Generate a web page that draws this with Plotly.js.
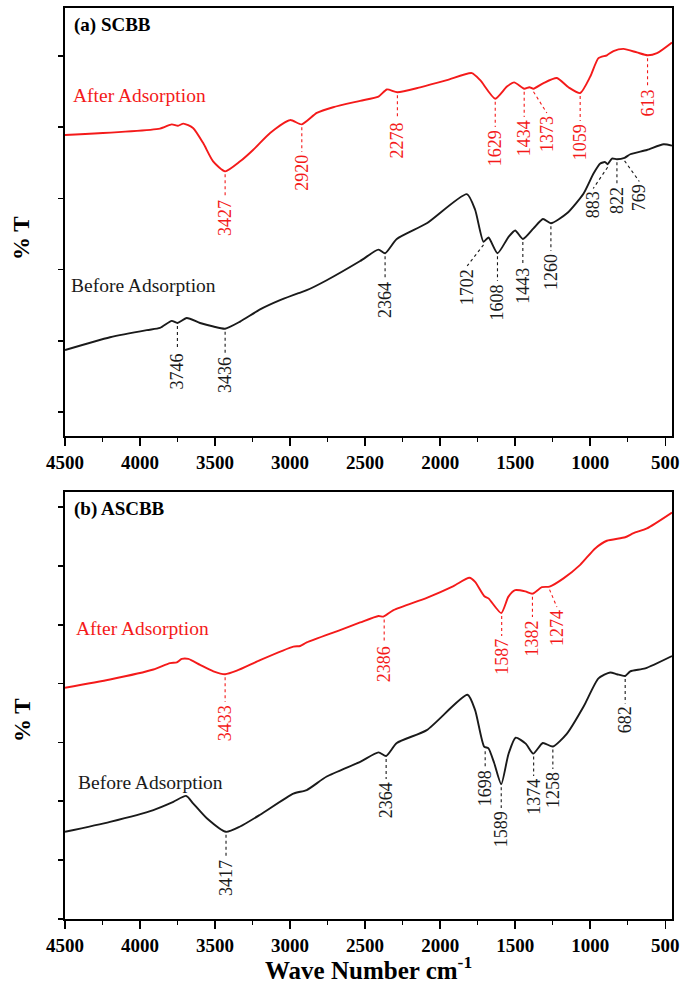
<!DOCTYPE html>
<html>
<head>
<meta charset="utf-8">
<script src="https://cdn.plot.ly/plotly-3.0.1.min.js"></script>
<style>html,body{margin:0;padding:0;background:#fff;}#chart{width:685px;height:987px;}</style>
</head>
<body>
<div id="chart"></div>
<script>
// ---------- DATA (wavenumber cm-1, %T arbitrary offset units) ----------
// Panel (a) SCBB
const A_RED_WN = [4500,3867,3789,3747,3711,3647,3580,3513,3433,3333,3247,3133,3000,2922,2822,2713,2533,2411,2355,2285,2133,1955,1789,1733,1633,1555,1507,1440,1405,1378,1311,1222,1145,1067,1000,945,889,845,778,689,618,555,455];
const A_RED_T  = [38.9,39.8,40.4,40.2,40.5,39.9,37.8,35.2,33.8,35.2,36.8,39.2,41.0,40.4,42.0,42.8,43.7,44.3,45.3,44.9,45.6,46.6,47.6,46.6,44.0,45.7,46.3,45.4,45.6,45.4,46.2,46.9,45.6,44.8,47.1,49.7,50.1,50.7,51.0,50.5,50.1,50.4,51.9];
const A_BLK_WN = [4500,4200,3955,3867,3789,3751,3689,3600,3511,3433,3333,3200,3067,2944,2889,2756,2533,2411,2367,2289,2089,1822,1767,1711,1678,1618,1544,1500,1449,1378,1315,1262,1155,1044,978,933,900,884,855,822,771,733,622,511,455];
const A_BLK_T  = [8.7,10.5,11.5,11.8,12.8,12.5,13.2,12.5,12.0,11.7,12.7,14.4,15.7,16.7,17.1,18.5,21.2,22.8,22.3,24.3,26.5,30.6,28.4,23.9,24.5,22.3,24.6,25.5,24.3,25.8,27.1,26.5,27.9,30.7,33.5,34.9,35.1,34.8,35.6,35.5,35.7,36.2,36.8,37.6,37.4];
// Panel (b) ASCBB
const B_RED_WN = [4500,4200,3911,3800,3755,3722,3678,3600,3511,3433,3355,3200,2978,2933,2889,2667,2533,2411,2378,2311,2089,1911,1805,1767,1707,1678,1593,1545,1500,1433,1385,1322,1271,1178,1067,967,889,767,711,622,455];
const B_RED_T  = [29.3,30.7,32.4,33.5,33.6,34.2,34.2,33.2,32.1,31.6,32.2,34.0,36.3,36.4,37.0,39.1,40.4,41.5,41.4,42.5,44.6,46.6,48.0,47.3,44.9,44.5,42.0,44.8,45.9,45.7,45.3,46.4,46.5,47.9,50.2,53.0,54.3,54.9,55.6,56.4,59.1];
const B_BLK_WN = [4500,4200,3911,3778,3693,3645,3555,3427,3333,3200,2978,2889,2756,2533,2411,2360,2289,2089,1818,1767,1707,1678,1640,1593,1545,1497,1430,1380,1316,1249,1155,1044,945,867,822,767,733,633,455];
const B_BLK_T  = [4.8,6.5,8.5,9.9,10.9,9.6,7.1,4.8,5.7,7.7,11.3,11.9,14.2,16.7,18.3,17.7,19.9,22.1,28.1,25.5,19.3,19.0,16.5,12.9,18.0,20.8,19.8,18.1,19.9,19.3,21.5,26.1,30.9,31.9,31.6,31.3,32.1,32.6,34.7];

// Peak labels: text, wavenumber where the dotted line starts, %T at curve, wavenumber of text, %T of text centre
const LA_RED_TXT = ['3427','2920','2278','1629','1434','1373','1059','613'];
const LA_RED_LX  = [3433,2922,2285,1633,1440,1378,1067,618];
const LA_RED_CV  = [33.8,40.4,44.9,44.0,45.4,45.4,44.8,50.1];
const LA_RED_TX  = [3433,2922,2285,1633,1440,1289,1067,618];
const LA_RED_TV  = [27.25,33.57,38.2,37.08,38.48,39.04,37.92,43.4];

const LA_BLK_TXT = ['3746','3436','2364','1702','1608','1443','1260','883','822','769'];
const LA_BLK_LX  = [3751,3433,2367,1711,1618,1449,1262,884,822,771];
const LA_BLK_CV  = [12.5,11.7,22.3,23.9,22.3,24.3,26.5,34.8,35.5,35.7];
const LA_BLK_TX  = [3751,3433,2367,1820,1618,1449,1262,980,822,673];
const LA_BLK_TV  = [5.76,5.2,15.73,17.56,15.45,17.7,19.66,29.07,29.78,30.06];

const LB_RED_TXT = ['3433','2386','1587','1382','1274'];
const LB_RED_LX  = [3433,2373,1590,1385,1271];
const LB_RED_CV  = [31.6,41.4,42.0,45.3,46.5];
const LB_RED_TX  = [3433,2373,1590,1385,1222];
const LB_RED_TV  = [23.3,33.33,34.52,37.76,39.46];

const LB_BLK_TXT = ['3417','2364','1698','1589','1374','1258','682'];
const LB_BLK_LX  = [3427,2360,1700,1593,1377,1249,767];
const LB_BLK_CV  = [4.8,17.7,19.0,12.9,18.1,19.3,31.3];
const LB_BLK_TX  = [3427,2360,1700,1593,1377,1249,767];
const LB_BLK_TV  = [-3.06,10.2,12.24,5.27,10.71,11.9,23.8];

const X_TICKS = [4500,4000,3500,3000,2500,2000,1500,1000,500];

// ---------- STYLE / LAYOUT ----------
const RED = '#f41a1a', BLK = '#1a1a1a';
const SERIF = 'Liberation Serif, Times New Roman, serif';
const W = 685, H = 987;
const M = {l:65, r:13, t:8, b:68};
const plotH = H - M.t - M.b;
const domA = [0.5302, 1], domB = [0, 0.4687];
const rangeA = [-3.37, 56.74], rangeB = [-10.03, 62.59];
const uppA = (rangeA[1]-rangeA[0]) / ((domA[1]-domA[0])*plotH);
const uppB = (rangeB[1]-rangeB[0]) / ((domB[1]-domB[0])*plotH);

function trace(x, y, color, xa, ya){
  return {x:x, y:y, type:'scatter', mode:'lines', xaxis:xa, yaxis:ya,
    line:{color:color, width:1.9, shape:'spline', smoothing:0.6}, hoverinfo:'skip', showlegend:false};
}
const data = [
  trace(A_RED_WN, A_RED_T, RED, 'x', 'y'),
  trace(A_BLK_WN, A_BLK_T, BLK, 'x', 'y'),
  trace(B_RED_WN, B_RED_T, RED, 'x2', 'y2'),
  trace(B_BLK_WN, B_BLK_T, BLK, 'x2', 'y2')
];

const annotations = [], shapes = [];
const LABSIZE = 18;
function addLabels(txt, lx, cv, tx, tv, color, xr, yr, upp){
  for (let i=0;i<txt.length;i++){
    const half = txt[i].length * 0.5 * LABSIZE / 2;
    shapes.push({type:'line', xref:xr, yref:yr, x0:lx[i], x1:tx[i],
      y0:cv[i] - 3*upp, y1:tv[i] + (half+3)*upp,
      line:{color:color, width:1.1, dash:'dot'}});
    annotations.push({xref:xr, yref:yr, x:tx[i], y:tv[i], text:txt[i], showarrow:false,
      textangle:-90, xanchor:'center', yanchor:'middle',
      font:{family:SERIF, size:LABSIZE, color:color}});
  }
}
addLabels(LA_RED_TXT, LA_RED_LX, LA_RED_CV, LA_RED_TX, LA_RED_TV, RED, 'x', 'y', uppA);
addLabels(LA_BLK_TXT, LA_BLK_LX, LA_BLK_CV, LA_BLK_TX, LA_BLK_TV, BLK, 'x', 'y', uppA);
addLabels(LB_RED_TXT, LB_RED_LX, LB_RED_CV, LB_RED_TX, LB_RED_TV, RED, 'x2', 'y2', uppB);
addLabels(LB_BLK_TXT, LB_BLK_LX, LB_BLK_CV, LB_BLK_TX, LB_BLK_TV, BLK, 'x2', 'y2', uppB);

const plotW = W - M.l - M.r;
function px(xp){ return (xp - M.l)/plotW; }
function py(yp){ return (H - M.b - yp)/plotH; }
function txt(text, xp, yp, size, color, bold, anchor, angle){
  annotations.push({xref:'paper', yref:'paper', x:px(xp), y:py(yp), text:text, showarrow:false,
    xanchor:anchor||'left', yanchor:'middle', textangle:angle||0,
    font:{family:SERIF, size:size, color:color, weight: bold?700:400}});
}
txt('(a) SCBB', 72, 25, 19, '#000', true);
txt('After Adsorption', 71, 95, 19.5, RED, false);
txt('Before Adsorption', 69, 285, 19.5, BLK, false);
txt('(b) ASCBB', 72, 509, 19, '#000', true);
txt('After Adsorption', 74, 628, 19.5, RED, false);
txt('Before Adsorption', 76, 782, 19.5, BLK, false);
txt('% T', 22, 238, 23, '#000', true, 'center', -90);
txt('% T', 22, 720, 23, '#000', true, 'center', -90);
txt('Wave Number cm<sup>-1</sup>', 368, 968, 25, '#000', true, 'center');

function xaxis(anchor){
  return {anchor:anchor, domain:[0,1], range:[4500,455], tickmode:'array', tickvals:X_TICKS,
    ticks:'outside', ticklen:8, tickwidth:1.5, tickcolor:'#000',
    minor:{dtick:250, tick0:0, ticks:'outside', ticklen:4, tickwidth:1.5, tickcolor:'#000', showgrid:false},
    showline:true, mirror:true, linewidth:1.8, linecolor:'#000', showgrid:false, zeroline:false,
    tickfont:{family:SERIF, size:19, color:'#000', weight:700}, fixedrange:true};
}
function yaxis(anchor, dom, rng){
  return {anchor:anchor, domain:dom, range:rng, tick0:0, dtick:10, ticks:'outside', ticklen:5,
    tickwidth:1.5, tickcolor:'#000', showticklabels:false, showline:true, mirror:true,
    linewidth:1.8, linecolor:'#000', showgrid:false, zeroline:false, fixedrange:true};
}
const layout = {
  width:W, height:H, margin:M, paper_bgcolor:'#fff', plot_bgcolor:'#fff', showlegend:false,
  xaxis: xaxis('y'), yaxis: yaxis('x', domA, rangeA),
  xaxis2: xaxis('y2'), yaxis2: yaxis('x2', domB, rangeB),
  annotations: annotations, shapes: shapes
};
Plotly.newPlot('chart', data, layout, {staticPlot:true, displayModeBar:false});
</script>
</body>
</html>
